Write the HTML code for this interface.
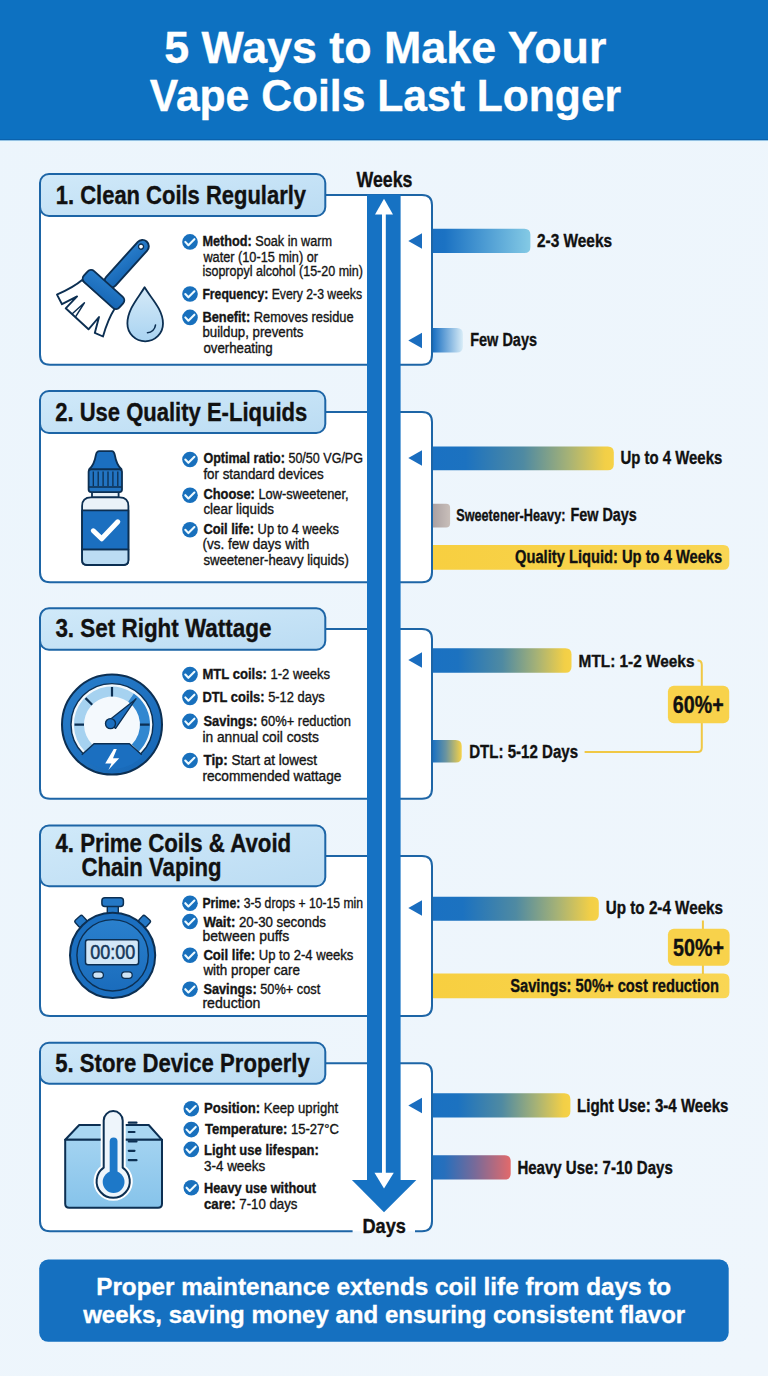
<!DOCTYPE html><html><head><meta charset="utf-8"><title>5 Ways to Make Your Vape Coils Last Longer</title><style>html,body{margin:0;padding:0;background:#edf5fc;width:768px;height:1376px;overflow:hidden}</style></head><body><svg width="768" height="1376" viewBox="0 0 768 1376" style="display:block;font-family:'Liberation Sans', sans-serif"><defs>
<linearGradient id="bgg" x1="0" y1="0" x2="1" y2="1"><stop offset="0" stop-color="#ecf5fc"/><stop offset="1" stop-color="#eff6fc"/></linearGradient>
<linearGradient id="tabg" x1="0" y1="0" x2="1" y2="1"><stop offset="0" stop-color="#d0e9f9"/><stop offset="1" stop-color="#bbdcf3"/></linearGradient>
<linearGradient id="gLight" x1="0" x2="1"><stop offset="0" stop-color="#1a70c2"/><stop offset="0.12" stop-color="#1b72c3"/><stop offset="1" stop-color="#84cae5"/></linearGradient>
<linearGradient id="gFade" x1="0" x2="1"><stop offset="0" stop-color="#1a70c2"/><stop offset="1" stop-color="#d8ecf7"/></linearGradient>
<linearGradient id="gBY" x1="0" x2="1"><stop offset="0" stop-color="#1a71c2"/><stop offset="0.18" stop-color="#1c72c0"/><stop offset="0.5" stop-color="#4f8aa2"/><stop offset="0.75" stop-color="#a6b276"/><stop offset="0.95" stop-color="#f2cf47"/><stop offset="1" stop-color="#f6d247"/></linearGradient>
<linearGradient id="gBY2" x1="0" x2="1"><stop offset="0" stop-color="#1a71c2"/><stop offset="0.45" stop-color="#6a94a0"/><stop offset="1" stop-color="#f6d247"/></linearGradient>
<linearGradient id="gBR" x1="0" x2="1"><stop offset="0" stop-color="#1d70c1"/><stop offset="0.15" stop-color="#276fbc"/><stop offset="0.55" stop-color="#7a6a98"/><stop offset="1" stop-color="#e26a6b"/></linearGradient>
<linearGradient id="gGray" x1="0" x2="1"><stop offset="0" stop-color="#aba1a2"/><stop offset="1" stop-color="#c9bfba"/></linearGradient>
<linearGradient id="gYel" x1="0" x2="1"><stop offset="0" stop-color="#f7cf40"/><stop offset="1" stop-color="#f9d654"/></linearGradient>
</defs><rect x="0" y="0" width="768" height="1376" fill="url(#bgg)"/>
<rect x="0" y="0" width="768" height="140.5" fill="#0d71c1"/>
<rect x="0" y="139" width="768" height="1.5" fill="#0a62ad"/>
<rect x="0" y="140.5" width="768" height="1.2" fill="#e4f8ff"/>
<path d="M40,195.0 H422 Q432,195.0 432,205.0 V354.8 Q432,364.8 422,364.8 H50 Q40,364.8 40,354.8 Z" fill="#ffffff" stroke="none"/>
<path d="M40,195.0 H422 Q432,195.0 432,205.0 V354.8 Q432,364.8 422,364.8 H50 Q40,364.8 40,354.8 Z" fill="none" stroke="#1d65a6" stroke-width="2"/>
<rect x="40" y="174" width="285.3" height="42" rx="9" fill="url(#tabg)" stroke="#1d65a6" stroke-width="2"/>
<path d="M40,412.0 H422 Q432,412.0 432,422.0 V572.2 Q432,582.2 422,582.2 H50 Q40,582.2 40,572.2 Z" fill="#ffffff" stroke="none"/>
<path d="M40,412.0 H422 Q432,412.0 432,422.0 V572.2 Q432,582.2 422,582.2 H50 Q40,582.2 40,572.2 Z" fill="none" stroke="#1d65a6" stroke-width="2"/>
<rect x="40" y="391" width="285.3" height="42" rx="9" fill="url(#tabg)" stroke="#1d65a6" stroke-width="2"/>
<path d="M40,629.05 H422 Q432,629.05 432,639.05 V788.8 Q432,798.8 422,798.8 H50 Q40,798.8 40,788.8 Z" fill="#ffffff" stroke="none"/>
<path d="M40,629.05 H422 Q432,629.05 432,639.05 V788.8 Q432,798.8 422,798.8 H50 Q40,798.8 40,788.8 Z" fill="none" stroke="#1d65a6" stroke-width="2"/>
<rect x="40" y="608.3" width="285.3" height="41.5" rx="9" fill="url(#tabg)" stroke="#1d65a6" stroke-width="2"/>
<path d="M40,855.9 H422 Q432,855.9 432,865.9 V1006 Q432,1016 422,1016 H50 Q40,1016 40,1006 Z" fill="#ffffff" stroke="none"/>
<path d="M40,855.9 H422 Q432,855.9 432,865.9 V1006 Q432,1016 422,1016 H50 Q40,1016 40,1006 Z" fill="none" stroke="#1d65a6" stroke-width="2"/>
<rect x="40" y="825.5" width="285.3" height="60.799999999999955" rx="9" fill="url(#tabg)" stroke="#1d65a6" stroke-width="2"/>
<path d="M40,1063.2 H422 Q432,1063.2 432,1073.2 V1221.2 Q432,1231.2 422,1231.2 H50 Q40,1231.2 40,1221.2 Z" fill="#ffffff" stroke="none"/>
<path d="M415,1231.2 H422 Q432,1231.2 432,1221.2 V1073.2 Q432,1063.2 422,1063.2 H40 V1221.2 Q40,1231.2 50,1231.2 H352.6" fill="none" stroke="#1d65a6" stroke-width="2"/>
<rect x="40" y="1042.7" width="285.3" height="41.0" rx="9" fill="url(#tabg)" stroke="#1d65a6" stroke-width="2"/>
<rect x="367" y="194.5" width="33.6" height="986" fill="#1672c3"/>
<rect x="382" y="210" width="3.8" height="970" fill="#ffffff"/>
<path d="M375,214.4 L384,198.7 L393,214.4 Z" fill="#ffffff"/>
<path d="M351.9,1180 L416.3,1180 L384,1212.3 Z" fill="#1672c3"/>
<path d="M374.5,1172.8 L393.8,1172.8 L384,1188.4 Z" fill="#ffffff"/>
<path d="M408.3,241 L422,233.2 L422,248.8 Z" fill="#1a6dbf"/>
<path d="M408.3,340.5 L422,332.7 L422,348.3 Z" fill="#1a6dbf"/>
<path d="M408.3,458 L422,450.2 L422,465.8 Z" fill="#1a6dbf"/>
<path d="M408.3,660 L422,652.2 L422,667.8 Z" fill="#1a6dbf"/>
<path d="M408.3,908 L422,900.2 L422,915.8 Z" fill="#1a6dbf"/>
<path d="M408.3,1105.5 L422,1097.7 L422,1113.3 Z" fill="#1a6dbf"/>
<path d="M433,228.8 H524.4 Q530.4,228.8 530.4,234.8 V247.1 Q530.4,253.1 524.4,253.1 H433 Z" fill="url(#gLight)"/>
<path d="M433,327.9 H456.9 Q462.9,327.9 462.9,333.9 V346.5 Q462.9,352.5 456.9,352.5 H433 Z" fill="url(#gFade)"/>
<path d="M433,446.4 H607.8 Q613.8,446.4 613.8,452.4 V464.2 Q613.8,470.2 607.8,470.2 H433 Z" fill="url(#gBY)"/>
<path d="M433,503.8 H446.1 Q450.1,503.8 450.1,507.8 V523.5 Q450.1,527.5 446.1,527.5 H433 Z" fill="url(#gGray)"/>
<path d="M433,545 H723.3 Q729.3,545 729.3,551 V563.8 Q729.3,569.8 723.3,569.8 H433 Z" fill="url(#gYel)"/>
<path d="M433,648.3 H565.5 Q571.5,648.3 571.5,654.3 V666.7 Q571.5,672.7 565.5,672.7 H433 Z" fill="url(#gBY)"/>
<path d="M433,740 H455.7 Q461.7,740 461.7,746 V756.5 Q461.7,762.5 455.7,762.5 H433 Z" fill="url(#gBY2)"/>
<path d="M433,896.7 H592.8 Q598.8,896.7 598.8,902.7 V914.8 Q598.8,920.8 592.8,920.8 H433 Z" fill="url(#gBY)"/>
<path d="M433,973.6 H723.4 Q729.4,973.6 729.4,979.6 V992.2 Q729.4,998.2 723.4,998.2 H433 Z" fill="url(#gYel)"/>
<path d="M433,1093.3 H564.4 Q570.4,1093.3 570.4,1099.3 V1111.6 Q570.4,1117.6 564.4,1117.6 H433 Z" fill="url(#gBY)"/>
<path d="M433,1155.3 H504.7 Q510.7,1155.3 510.7,1161.3 V1173.6 Q510.7,1179.6 504.7,1179.6 H433 Z" fill="url(#gBR)"/>
<path d="M697.5,660.6 Q701.8,660.6 701.8,665 V686 M701.8,722.5 V747.5 Q701.8,752 697.5,752 H584.6" fill="none" stroke="#f0c845" stroke-width="2"/>
<rect x="667.9" y="685.7" width="61.3" height="37.5" rx="6" fill="#f8d24b"/>
<path d="M702.9,920.4 V929 M702.9,965 V974" fill="none" stroke="#f0c845" stroke-width="2"/>
<rect x="667.9" y="928.8" width="61.7" height="37" rx="6" fill="#f8d24b"/>
<circle cx="190" cy="241.9" r="7.8" fill="#1870bd"/><path d="M185.3,241.9 L188.4,245.20000000000002 L194.4,239.20000000000002" fill="none" stroke="#eefaff" stroke-width="2.1" stroke-linecap="round" stroke-linejoin="round"/>
<circle cx="190" cy="294" r="7.8" fill="#1870bd"/><path d="M185.3,294 L188.4,297.3 L194.4,291.3" fill="none" stroke="#eefaff" stroke-width="2.1" stroke-linecap="round" stroke-linejoin="round"/>
<circle cx="190" cy="317.4" r="7.8" fill="#1870bd"/><path d="M185.3,317.4 L188.4,320.7 L194.4,314.7" fill="none" stroke="#eefaff" stroke-width="2.1" stroke-linecap="round" stroke-linejoin="round"/>
<circle cx="190" cy="459.5" r="7.8" fill="#1870bd"/><path d="M185.3,459.5 L188.4,462.8 L194.4,456.8" fill="none" stroke="#eefaff" stroke-width="2.1" stroke-linecap="round" stroke-linejoin="round"/>
<circle cx="190" cy="495.2" r="7.8" fill="#1870bd"/><path d="M185.3,495.2 L188.4,498.5 L194.4,492.5" fill="none" stroke="#eefaff" stroke-width="2.1" stroke-linecap="round" stroke-linejoin="round"/>
<circle cx="190" cy="529.8" r="7.8" fill="#1870bd"/><path d="M185.3,529.8 L188.4,533.0999999999999 L194.4,527.0999999999999" fill="none" stroke="#eefaff" stroke-width="2.1" stroke-linecap="round" stroke-linejoin="round"/>
<circle cx="190" cy="674.5" r="7.8" fill="#1870bd"/><path d="M185.3,674.5 L188.4,677.8 L194.4,671.8" fill="none" stroke="#eefaff" stroke-width="2.1" stroke-linecap="round" stroke-linejoin="round"/>
<circle cx="190" cy="697.4" r="7.8" fill="#1870bd"/><path d="M185.3,697.4 L188.4,700.6999999999999 L194.4,694.6999999999999" fill="none" stroke="#eefaff" stroke-width="2.1" stroke-linecap="round" stroke-linejoin="round"/>
<circle cx="190" cy="721.4" r="7.8" fill="#1870bd"/><path d="M185.3,721.4 L188.4,724.6999999999999 L194.4,718.6999999999999" fill="none" stroke="#eefaff" stroke-width="2.1" stroke-linecap="round" stroke-linejoin="round"/>
<circle cx="190" cy="760.5" r="7.8" fill="#1870bd"/><path d="M185.3,760.5 L188.4,763.8 L194.4,757.8" fill="none" stroke="#eefaff" stroke-width="2.1" stroke-linecap="round" stroke-linejoin="round"/>
<circle cx="190" cy="903.2" r="7.8" fill="#1870bd"/><path d="M185.3,903.2 L188.4,906.5 L194.4,900.5" fill="none" stroke="#eefaff" stroke-width="2.1" stroke-linecap="round" stroke-linejoin="round"/>
<circle cx="190" cy="921.5" r="7.8" fill="#1870bd"/><path d="M185.3,921.5 L188.4,924.8 L194.4,918.8" fill="none" stroke="#eefaff" stroke-width="2.1" stroke-linecap="round" stroke-linejoin="round"/>
<circle cx="190" cy="955.3" r="7.8" fill="#1870bd"/><path d="M185.3,955.3 L188.4,958.5999999999999 L194.4,952.5999999999999" fill="none" stroke="#eefaff" stroke-width="2.1" stroke-linecap="round" stroke-linejoin="round"/>
<circle cx="190" cy="989.2" r="7.8" fill="#1870bd"/><path d="M185.3,989.2 L188.4,992.5 L194.4,986.5" fill="none" stroke="#eefaff" stroke-width="2.1" stroke-linecap="round" stroke-linejoin="round"/>
<circle cx="191.3" cy="1108.75" r="7.8" fill="#1870bd"/><path d="M186.60000000000002,1108.75 L189.70000000000002,1112.05 L195.70000000000002,1106.05" fill="none" stroke="#eefaff" stroke-width="2.1" stroke-linecap="round" stroke-linejoin="round"/>
<circle cx="191.3" cy="1129.6" r="7.8" fill="#1870bd"/><path d="M186.60000000000002,1129.6 L189.70000000000002,1132.8999999999999 L195.70000000000002,1126.8999999999999" fill="none" stroke="#eefaff" stroke-width="2.1" stroke-linecap="round" stroke-linejoin="round"/>
<circle cx="191.3" cy="1149.4" r="7.8" fill="#1870bd"/><path d="M186.60000000000002,1149.4 L189.70000000000002,1152.7 L195.70000000000002,1146.7" fill="none" stroke="#eefaff" stroke-width="2.1" stroke-linecap="round" stroke-linejoin="round"/>
<circle cx="191.3" cy="1187.7" r="7.8" fill="#1870bd"/><path d="M186.60000000000002,1187.7 L189.70000000000002,1191.0 L195.70000000000002,1185.0" fill="none" stroke="#eefaff" stroke-width="2.1" stroke-linecap="round" stroke-linejoin="round"/>
<rect x="39.2" y="1259.5" width="689.5" height="82.3" rx="9" fill="#1570c0"/><defs>
<linearGradient id="icB" x1="0" y1="0" x2="1" y2="1"><stop offset="0" stop-color="#2a7fcc"/><stop offset="1" stop-color="#1565b4"/></linearGradient>
<linearGradient id="dropG" x1="0" y1="0" x2="0" y2="1"><stop offset="0" stop-color="#d5eaf8"/><stop offset="1" stop-color="#a9d3f1"/></linearGradient>
<linearGradient id="boxG" x1="0" y1="0" x2="0" y2="1"><stop offset="0" stop-color="#a3d3f1"/><stop offset="1" stop-color="#86c3ea"/></linearGradient>
<linearGradient id="swG" x1="0" y1="0" x2="0" y2="1"><stop offset="0" stop-color="#2a80cd"/><stop offset="1" stop-color="#1a6cbc"/></linearGradient>
</defs>
<!-- Icon 1: brush + droplet -->
<path d="M82.1,280 C74,287 65,291 57,294.6 L62,304.2 L77.1,296.4 L65.7,308.3 L88.5,329.3 L99,317 L94.8,332.9 L103,336.5 C106,326 110,316 114.9,308.3 Z" fill="#ffffff" stroke="#0c2f52" stroke-width="1.9" stroke-linejoin="round"/>
<path d="M72,314 L84.4,302.8 L75.5,316.8" fill="none" stroke="#0c2f52" stroke-width="1.5" stroke-linejoin="round"/>
<g transform="translate(103.5,289.5) rotate(42)" stroke="#0c2f52" stroke-width="1.9" stroke-linejoin="round">
  <rect x="-6.4" y="-64.5" width="12.8" height="60" rx="6.4" fill="url(#icB)"/>
  <circle cx="-0.8" cy="-57" r="2.5" fill="#ffffff" stroke-width="1.3"/>
  <rect x="-23.8" y="-7.4" width="47.6" height="14.8" rx="4.5" fill="url(#icB)"/>
</g>
<path d="M144.6,287.3 C150,297 163,309 163,323.5 C163,333.5 155,341.3 145.2,341.3 C135.4,341.3 127.4,333.5 127.4,323.5 C127.4,309 139,297 144.6,287.3 Z" fill="url(#dropG)" stroke="#0c2f52" stroke-width="1.8" stroke-linejoin="round"/>
<path d="M155.5,325 C155,329.5 151.5,332.5 147.5,332.8" fill="none" stroke="#0c2f52" stroke-width="1.6" stroke-linecap="round"/>

<!-- Icon 2: bottle -->
<g stroke="#0c2f52" stroke-width="1.8" stroke-linejoin="round">
  <path d="M92,492 H118.6 V497.5 H92 Z" fill="#e6f0f8"/>
  <path d="M91,497.3 H119.6 Q128.4,497.3 128.4,506 V560 Q128.4,565 123.4,565 H87.1 Q82.1,565 82.1,560 V506 Q82.1,497.3 91,497.3 Z" fill="#eaf2f9"/>
  <path d="M82.1,549.4 H128.4 V560 Q128.4,565 123.4,565 H87.1 Q82.1,565 82.1,560 Z" fill="#bcdcf3"/>
  <rect x="82.1" y="510.3" width="46.3" height="39.1" fill="#1b6fc0"/>
  <path d="M99.3,451.1 H111.9 Q114,451.1 114.8,455 Q116.5,465 121.5,469.3 H89.2 Q94.2,465 95.9,455 Q96.7,451.1 99.3,451.1 Z" fill="#1b6fc0"/>
  <rect x="88.6" y="469.3" width="33.4" height="22.8" rx="2.5" fill="#2274c2"/>
  <path d="M88.6,487 H122 M93.3,471.5 V486 M98.2,471.5 V486 M103.1,471.5 V486 M108,471.5 V486 M112.9,471.5 V486 M117.8,471.5 V486" fill="none" stroke-width="1.3"/>
</g>
<path d="M93.3,530.8 L101.7,538.8 L117.8,521.8" fill="none" stroke="#ffffff" stroke-width="5" stroke-linecap="round" stroke-linejoin="round"/>

<!-- Icon 3: gauge -->
<g transform="translate(112,724.6)">
  <circle r="50" fill="url(#icB)" stroke="#0c2f52" stroke-width="2"/>
  <circle r="41" fill="#f4f9fd" stroke="#0c2f52" stroke-width="1.4"/>
  <path d="M-26.9,26.9 A38,38 0 0 1 21.8,-31.1 L16.1,-22.9 A28,28 0 0 0 -19.8,19.8 Z" fill="#a6d2f0"/>
  <path d="M21.8,-31.1 A38,38 0 0 1 26.9,26.9 L19.8,19.8 A28,28 0 0 0 16.1,-22.9 Z" fill="#3187d0"/>
  <path d="M-37.5,0 H-28 M0,-37.5 V-28 M37.5,0 H28 M-26.5,-26.5 L-19.8,-19.8 M-0,0" stroke="#0c2f52" stroke-width="2.2" fill="none"/>
  <path d="M-31.4,31.4 L-18,19.2 H17.4 L31,31 A43,43 0 0 1 -31.4,31.4 Z" fill="#1b6fc0"/><path d="M-30.2,30.2 L-18,19.2 H17.4 L29.7,30.2" fill="none" stroke="#0c2f52" stroke-width="1.5" stroke-linejoin="round"/>
  <path d="M1.8,24.5 L-6.8,38.8 H-0.6 L-3.6,45.5 L7.2,33.6 H1 L4.8,24.5 Z" fill="#ffffff"/>
  <path d="M-4.5,-3.2 L21.5,-23.6 L24,-25.8 L22,-23 L3.6,3.8 Z" fill="#1b6fc0" stroke="#0c2f52" stroke-width="1.3" stroke-linejoin="round"/>
  <circle cx="-1.5" cy="-1" r="5" fill="#1b6fc0" stroke="#0c2f52" stroke-width="1.4"/>
</g>

<!-- Icon 4: stopwatch -->
<g stroke="#0c2f52" stroke-linejoin="round">
  <rect x="107.3" y="905" width="11" height="9" fill="#2478c6" stroke-width="1.4"/>
  <rect x="101.9" y="897.8" width="21.5" height="8.6" rx="3" fill="#2478c6" stroke-width="1.5"/>
  <rect x="-5" y="-4.5" width="10" height="9" rx="2" transform="translate(80.8,921.3) rotate(-42)" fill="#2478c6" stroke-width="1.4"/>
  <rect x="-5" y="-4.5" width="10" height="9" rx="2" transform="translate(144.5,921.3) rotate(42)" fill="#2478c6" stroke-width="1.4"/>
  <circle cx="112.6" cy="955.3" r="42.6" fill="#1b6fc0" stroke-width="2"/>
  <circle cx="112.6" cy="955.3" r="35.7" fill="url(#swG)" stroke-width="1.4"/>
  <rect x="85.5" y="939.7" width="53.1" height="25" rx="2.5" fill="#d2e7f7" stroke-width="1.5"/>
  <rect x="92.8" y="971.8" width="10.6" height="6.6" rx="3.3" fill="#cfe4f5" stroke-width="1.3"/>
  <rect x="121.6" y="971.8" width="10.6" height="6.6" rx="3.3" fill="#cfe4f5" stroke-width="1.3"/>
</g>
<text x="0" y="0" font-family="'Liberation Sans', sans-serif" font-size="16" text-anchor="middle" fill="#16385a" stroke="#16385a" stroke-width="0.4" textLength="45" lengthAdjust="spacingAndGlyphs" transform="translate(112.8,958.7) scale(1,1.27)">00:00</text>

<!-- Icon 5: box + thermometer -->
<g stroke="#0c2f52" stroke-width="2" stroke-linejoin="round">
  <path d="M65.2,1139.8 L79.2,1125 H148.7 L162,1139.8 Z" fill="#a9d7f2"/>
  <path d="M65.2,1139.8 H162 V1203.8 Q162,1207.8 158,1207.8 H69.2 Q65.2,1207.8 65.2,1203.8 Z" fill="url(#boxG)"/>
</g>
<g stroke="#0c2f52" stroke-linecap="round">
  <path d="M128.8,1122.7 H136.5 M128.8,1132 H134.5 M128.8,1141.4 H136.5 M128.8,1150.8 H134.5 M128.8,1160.2 H136.5" stroke-width="2.2"/>
</g>
<path d="M103.7,1120.6 A9.5,9.5 0 0 1 122.7,1120.6 V1167.6 A16.6,16.6 0 1 1 103.7,1167.6 Z" fill="#ffffff" stroke="#ffffff" stroke-width="6"/>
<path d="M103.7,1120.6 A9.5,9.5 0 0 1 122.7,1120.6 V1167.6 A16.6,16.6 0 1 1 103.7,1167.6 Z" fill="#eef5fb" stroke="#0c2f52" stroke-width="2"/>
<rect x="109.7" y="1137.5" width="7.8" height="40" rx="3.9" fill="#1d78c8"/>
<circle cx="113.6" cy="1182" r="10.9" fill="#1d78c8"/>
<text x="164.20" y="63" font-size="45" fill="#ffffff" textLength="442.21" lengthAdjust="spacingAndGlyphs" stroke="#ffffff" stroke-width="0.35"><tspan font-weight="bold">5 Ways to Make Your</tspan></text>
<text x="149.80" y="110.5" font-size="45" fill="#ffffff" textLength="471.40" lengthAdjust="spacingAndGlyphs" stroke="#ffffff" stroke-width="0.35"><tspan font-weight="bold">Vape Coils Last Longer</tspan></text>
<text x="55.80" y="203.8" font-size="25" fill="#111" textLength="250.21" lengthAdjust="spacingAndGlyphs" stroke="#111" stroke-width="0.35"><tspan font-weight="bold">1. Clean Coils Regularly</tspan></text>
<text x="55.20" y="420.5" font-size="25" fill="#111" textLength="252.02" lengthAdjust="spacingAndGlyphs" stroke="#111" stroke-width="0.35"><tspan font-weight="bold">2. Use Quality E-Liquids</tspan></text>
<text x="55.40" y="637.4" font-size="25" fill="#111" textLength="216.01" lengthAdjust="spacingAndGlyphs" stroke="#111" stroke-width="0.35"><tspan font-weight="bold">3. Set Right Wattage</tspan></text>
<text x="55.40" y="851.9" font-size="25" fill="#111" textLength="235.82" lengthAdjust="spacingAndGlyphs" stroke="#111" stroke-width="0.35"><tspan font-weight="bold">4. Prime Coils &amp; Avoid</tspan></text>
<text x="81.40" y="876.2" font-size="25" fill="#111" textLength="140.23" lengthAdjust="spacingAndGlyphs" stroke="#111" stroke-width="0.35"><tspan font-weight="bold">Chain Vaping</tspan></text>
<text x="55.20" y="1071.7" font-size="25" fill="#111" textLength="254.60" lengthAdjust="spacingAndGlyphs" stroke="#111" stroke-width="0.35"><tspan font-weight="bold">5. Store Device Properly</tspan></text>
<text x="202.40" y="246.4" font-size="14" fill="#151515" textLength="129.63" lengthAdjust="spacingAndGlyphs" stroke="#151515" stroke-width="0.35"><tspan font-weight="bold">Method:</tspan><tspan font-weight="normal"> Soak in warm</tspan></text>
<text x="203.40" y="261.5" font-size="14" fill="#151515" textLength="114.60" lengthAdjust="spacingAndGlyphs" stroke="#151515" stroke-width="0.35"><tspan font-weight="normal">water (10-15 min) or</tspan></text>
<text x="202.40" y="276.3" font-size="14" fill="#151515" textLength="160.61" lengthAdjust="spacingAndGlyphs" stroke="#151515" stroke-width="0.35"><tspan font-weight="normal">isopropyl alcohol (15-20 min)</tspan></text>
<text x="202.40" y="298.7" font-size="14" fill="#151515" textLength="159.61" lengthAdjust="spacingAndGlyphs" stroke="#151515" stroke-width="0.35"><tspan font-weight="bold">Frequency:</tspan><tspan font-weight="normal"> Every 2-3 weeks</tspan></text>
<text x="202.40" y="321.9" font-size="14" fill="#151515" textLength="151.21" lengthAdjust="spacingAndGlyphs" stroke="#151515" stroke-width="0.35"><tspan font-weight="bold">Benefit:</tspan><tspan font-weight="normal"> Removes residue</tspan></text>
<text x="202.40" y="337" font-size="14" fill="#151515" textLength="101.03" lengthAdjust="spacingAndGlyphs" stroke="#151515" stroke-width="0.35"><tspan font-weight="normal">buildup, prevents</tspan></text>
<text x="203.40" y="352.6" font-size="14" fill="#151515" textLength="69.22" lengthAdjust="spacingAndGlyphs" stroke="#151515" stroke-width="0.35"><tspan font-weight="normal">overheating</tspan></text>
<text x="203.40" y="463.4" font-size="14" fill="#151515" textLength="159.61" lengthAdjust="spacingAndGlyphs" stroke="#151515" stroke-width="0.35"><tspan font-weight="bold">Optimal ratio:</tspan><tspan font-weight="normal"> 50/50 VG/PG</tspan></text>
<text x="203.40" y="478.5" font-size="14" fill="#151515" textLength="120.20" lengthAdjust="spacingAndGlyphs" stroke="#151515" stroke-width="0.35"><tspan font-weight="normal">for standard devices</tspan></text>
<text x="203.40" y="499.4" font-size="14" fill="#151515" textLength="145.22" lengthAdjust="spacingAndGlyphs" stroke="#151515" stroke-width="0.35"><tspan font-weight="bold">Choose:</tspan><tspan font-weight="normal"> Low-sweetener,</tspan></text>
<text x="203.40" y="513.7" font-size="14" fill="#151515" textLength="70.62" lengthAdjust="spacingAndGlyphs" stroke="#151515" stroke-width="0.35"><tspan font-weight="normal">clear liquids</tspan></text>
<text x="203.40" y="533.75" font-size="14" fill="#151515" textLength="135.60" lengthAdjust="spacingAndGlyphs" stroke="#151515" stroke-width="0.35"><tspan font-weight="bold">Coil life:</tspan><tspan font-weight="normal"> Up to 4 weeks</tspan></text>
<text x="202.40" y="548.9" font-size="14" fill="#151515" textLength="106.83" lengthAdjust="spacingAndGlyphs" stroke="#151515" stroke-width="0.35"><tspan font-weight="normal">(vs. few days with</tspan></text>
<text x="203.40" y="564.5" font-size="14" fill="#151515" textLength="145.41" lengthAdjust="spacingAndGlyphs" stroke="#151515" stroke-width="0.35"><tspan font-weight="normal">sweetener-heavy liquids)</tspan></text>
<text x="202.40" y="679" font-size="14" fill="#151515" textLength="127.61" lengthAdjust="spacingAndGlyphs" stroke="#151515" stroke-width="0.35"><tspan font-weight="bold">MTL coils:</tspan><tspan font-weight="normal"> 1-2 weeks</tspan></text>
<text x="202.40" y="702.4" font-size="14" fill="#151515" textLength="122.42" lengthAdjust="spacingAndGlyphs" stroke="#151515" stroke-width="0.35"><tspan font-weight="bold">DTL coils:</tspan><tspan font-weight="normal"> 5-12 days</tspan></text>
<text x="203.40" y="725.8" font-size="14" fill="#151515" textLength="147.61" lengthAdjust="spacingAndGlyphs" stroke="#151515" stroke-width="0.35"><tspan font-weight="bold">Savings:</tspan><tspan font-weight="normal"> 60%+ reduction</tspan></text>
<text x="202.40" y="741.7" font-size="14" fill="#151515" textLength="116.42" lengthAdjust="spacingAndGlyphs" stroke="#151515" stroke-width="0.35"><tspan font-weight="normal">in annual coil costs</tspan></text>
<text x="203.40" y="764.9" font-size="14" fill="#151515" textLength="113.60" lengthAdjust="spacingAndGlyphs" stroke="#151515" stroke-width="0.35"><tspan font-weight="bold">Tip:</tspan><tspan font-weight="normal"> Start at lowest</tspan></text>
<text x="202.40" y="780.8" font-size="14" fill="#151515" textLength="139.02" lengthAdjust="spacingAndGlyphs" stroke="#151515" stroke-width="0.35"><tspan font-weight="normal">recommended wattage</tspan></text>
<text x="202.40" y="907.9" font-size="14" fill="#151515" textLength="160.62" lengthAdjust="spacingAndGlyphs" stroke="#151515" stroke-width="0.35"><tspan font-weight="bold">Prime:</tspan><tspan font-weight="normal"> 3-5 drops + 10-15 min</tspan></text>
<text x="203.40" y="926.7" font-size="14" fill="#151515" textLength="122.61" lengthAdjust="spacingAndGlyphs" stroke="#151515" stroke-width="0.35"><tspan font-weight="bold">Wait:</tspan><tspan font-weight="normal"> 20-30 seconds</tspan></text>
<text x="202.40" y="941" font-size="14" fill="#151515" textLength="86.84" lengthAdjust="spacingAndGlyphs" stroke="#151515" stroke-width="0.35"><tspan font-weight="normal">between puffs</tspan></text>
<text x="203.40" y="960" font-size="14" fill="#151515" textLength="150.01" lengthAdjust="spacingAndGlyphs" stroke="#151515" stroke-width="0.35"><tspan font-weight="bold">Coil life:</tspan><tspan font-weight="normal"> Up to 2-4 weeks</tspan></text>
<text x="203.40" y="974.8" font-size="14" fill="#151515" textLength="96.61" lengthAdjust="spacingAndGlyphs" stroke="#151515" stroke-width="0.35"><tspan font-weight="normal">with proper care</tspan></text>
<text x="203.40" y="993.6" font-size="14" fill="#151515" textLength="116.81" lengthAdjust="spacingAndGlyphs" stroke="#151515" stroke-width="0.35"><tspan font-weight="bold">Savings:</tspan><tspan font-weight="normal"> 50%+ cost</tspan></text>
<text x="202.40" y="1007.9" font-size="14" fill="#151515" textLength="58.05" lengthAdjust="spacingAndGlyphs" stroke="#151515" stroke-width="0.35"><tspan font-weight="normal">reduction</tspan></text>
<text x="204.00" y="1112.9" font-size="14" fill="#151515" textLength="134.21" lengthAdjust="spacingAndGlyphs" stroke="#151515" stroke-width="0.35"><tspan font-weight="bold">Position:</tspan><tspan font-weight="normal"> Keep upright</tspan></text>
<text x="205.00" y="1133.75" font-size="14" fill="#151515" textLength="134.00" lengthAdjust="spacingAndGlyphs" stroke="#151515" stroke-width="0.35"><tspan font-weight="bold">Temperature:</tspan><tspan font-weight="normal"> 15-27°C</tspan></text>
<text x="204.00" y="1154.6" font-size="14" fill="#151515" textLength="114.84" lengthAdjust="spacingAndGlyphs" stroke="#151515" stroke-width="0.35"><tspan font-weight="bold">Light use lifespan:</tspan></text>
<text x="204.00" y="1170.7" font-size="14" fill="#151515" textLength="61.25" lengthAdjust="spacingAndGlyphs" stroke="#151515" stroke-width="0.35"><tspan font-weight="normal">3-4 weeks</tspan></text>
<text x="204.00" y="1192.9" font-size="14" fill="#151515" textLength="112.01" lengthAdjust="spacingAndGlyphs" stroke="#151515" stroke-width="0.35"><tspan font-weight="bold">Heavy use without</tspan></text>
<text x="204.00" y="1208.5" font-size="14" fill="#151515" textLength="93.44" lengthAdjust="spacingAndGlyphs" stroke="#151515" stroke-width="0.35"><tspan font-weight="bold">care:</tspan><tspan font-weight="normal"> 7-10 days</tspan></text>
<text x="356.60" y="186.5" font-size="22" fill="#111" textLength="55.82" lengthAdjust="spacingAndGlyphs" stroke="#111" stroke-width="0.35"><tspan font-weight="bold">Weeks</tspan></text>
<text x="362.40" y="1232.6" font-size="21" fill="#111" textLength="43.55" lengthAdjust="spacingAndGlyphs" stroke="#111" stroke-width="0.35"><tspan font-weight="bold">Days</tspan></text>
<text x="537.00" y="247" font-size="18" fill="#111" textLength="75.03" lengthAdjust="spacingAndGlyphs" stroke="#111" stroke-width="0.35"><tspan font-weight="bold">2-3 Weeks</tspan></text>
<text x="470.20" y="346.25" font-size="18" fill="#111" textLength="66.83" lengthAdjust="spacingAndGlyphs" stroke="#111" stroke-width="0.35"><tspan font-weight="bold">Few Days</tspan></text>
<text x="620.60" y="463.5" font-size="18" fill="#111" textLength="101.63" lengthAdjust="spacingAndGlyphs" stroke="#111" stroke-width="0.35"><tspan font-weight="bold">Up to 4 Weeks</tspan></text>
<text x="456.20" y="520.9" font-size="16.5" fill="#111" textLength="109.23" lengthAdjust="spacingAndGlyphs" stroke="#111" stroke-width="0.35"><tspan font-weight="bold">Sweetener-Heavy:</tspan></text>
<text x="570.40" y="520.9" font-size="17.5" fill="#111" textLength="66.42" lengthAdjust="spacingAndGlyphs" stroke="#111" stroke-width="0.35"><tspan font-weight="bold">Few Days</tspan></text>
<text x="515.00" y="562.5" font-size="18" fill="#111" textLength="207.21" lengthAdjust="spacingAndGlyphs" stroke="#111" stroke-width="0.35"><tspan font-weight="bold">Quality Liquid: Up to 4 Weeks</tspan></text>
<text x="578.60" y="667" font-size="17" fill="#111" textLength="115.84" lengthAdjust="spacingAndGlyphs" stroke="#111" stroke-width="0.35"><tspan font-weight="bold">MTL: 1-2 Weeks</tspan></text>
<text x="672.80" y="712.6" font-size="24" fill="#111" textLength="50.84" lengthAdjust="spacingAndGlyphs" stroke="#111" stroke-width="0.35"><tspan font-weight="bold">60%+</tspan></text>
<text x="469.20" y="757.9" font-size="18" fill="#111" textLength="108.84" lengthAdjust="spacingAndGlyphs" stroke="#111" stroke-width="0.35"><tspan font-weight="bold">DTL: 5-12 Days</tspan></text>
<text x="605.80" y="914.2" font-size="17.5" fill="#111" textLength="117.24" lengthAdjust="spacingAndGlyphs" stroke="#111" stroke-width="0.35"><tspan font-weight="bold">Up to 2-4 Weeks</tspan></text>
<text x="673.00" y="955.8" font-size="24" fill="#111" textLength="51.06" lengthAdjust="spacingAndGlyphs" stroke="#111" stroke-width="0.35"><tspan font-weight="bold">50%+</tspan></text>
<text x="510.20" y="991.5" font-size="18" fill="#111" textLength="208.81" lengthAdjust="spacingAndGlyphs" stroke="#111" stroke-width="0.35"><tspan font-weight="bold">Savings: 50%+ cost reduction</tspan></text>
<text x="577.00" y="1111.9" font-size="18" fill="#111" textLength="151.42" lengthAdjust="spacingAndGlyphs" stroke="#111" stroke-width="0.35"><tspan font-weight="bold">Light Use: 3-4 Weeks</tspan></text>
<text x="517.40" y="1173.8" font-size="18" fill="#111" textLength="155.42" lengthAdjust="spacingAndGlyphs" stroke="#111" stroke-width="0.35"><tspan font-weight="bold">Heavy Use: 7-10 Days</tspan></text>
<text x="96.20" y="1295" font-size="24.5" fill="#ffffff" textLength="575.01" lengthAdjust="spacingAndGlyphs" stroke="#ffffff" stroke-width="0.35"><tspan font-weight="bold">Proper maintenance extends coil life from days to</tspan></text>
<text x="83.20" y="1323" font-size="24.5" fill="#ffffff" textLength="602.00" lengthAdjust="spacingAndGlyphs" stroke="#ffffff" stroke-width="0.35"><tspan font-weight="bold">weeks, saving money and ensuring consistent flavor</tspan></text></svg></body></html>
